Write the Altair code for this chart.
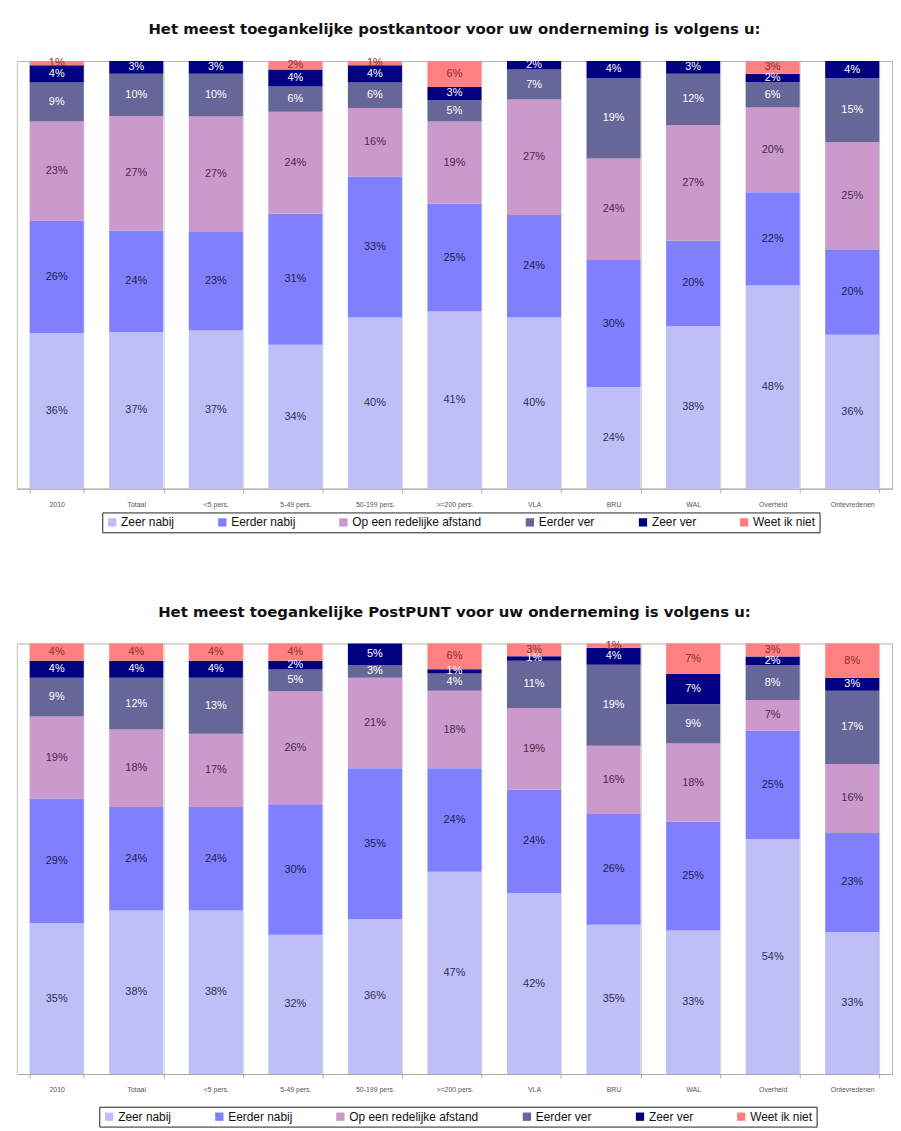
import altair as alt
import pandas as pd

categories = ["2010", "Totaal", "<5 pers.", "5-49 pers.", "50-199 pers.", ">=200 pers.",
              "VLA", "BRU", "WAL", "Overheid", "Ontevredenen"]
answers = ["Zeer nabij", "Eerder nabij", "Op een redelijke afstand", "Eerder ver", "Zeer ver", "Weet ik niet"]

# Chart 1: postkantoor
kantoor_zeer_nabij = [36, 37, 37, 34, 40, 41, 40, 24, 38, 48, 36]
kantoor_eerder_nabij = [26, 24, 23, 31, 33, 25, 24, 30, 20, 22, 20]
kantoor_redelijk = [23, 27, 27, 24, 16, 19, 27, 24, 27, 20, 25]
kantoor_eerder_ver = [9, 10, 10, 6, 6, 5, 7, 19, 12, 6, 15]
kantoor_zeer_ver = [4, 3, 3, 4, 4, 3, 2, 4, 3, 2, 4]
kantoor_weet_niet = [1, 0, 0, 2, 1, 6, 0, 0, 0, 3, 0]

# Chart 2: PostPUNT
punt_zeer_nabij = [35, 38, 38, 32, 36, 47, 42, 35, 33, 54, 33]
punt_eerder_nabij = [29, 24, 24, 30, 35, 24, 24, 26, 25, 25, 23]
punt_redelijk = [19, 18, 17, 26, 21, 18, 19, 16, 18, 7, 16]
punt_eerder_ver = [9, 12, 13, 5, 3, 4, 11, 19, 9, 8, 17]
punt_zeer_ver = [4, 4, 4, 2, 5, 1, 1, 4, 7, 2, 3]
punt_weet_niet = [4, 4, 4, 4, 0, 6, 3, 1, 7, 3, 8]

title1 = "Het meest toegankelijke postkantoor voor uw onderneming is volgens u:"
title2 = "Het meest toegankelijke PostPUNT voor uw onderneming is volgens u:"

bar_colors = ["#BFBFF8", "#8080FF", "#CC99CC", "#666699", "#000080", "#FF8080"]
text_colors = ["#2E2E55", "#1E1E50", "#4A2A4A", "#FFFFFF", "#FFFFFF", "#8B2E2E"]


def long_table(series):
    rows = []
    for k, (ans, vals) in enumerate(zip(answers, series)):
        for cat, v in zip(categories, vals):
            rows.append({"cat": cat, "answer": ans, "order": k, "value": v})
    return pd.DataFrame(rows)


def panel(series, title, width, height, lx, ly):
    df = long_table(series)
    base = alt.Chart(df)
    xenc = alt.X("cat:N", sort=categories, title=None,
                 scale=alt.Scale(paddingInner=0.32, paddingOuter=0.16),
                 axis=alt.Axis(labelAngle=0, labelFontSize=7, labelColor="#555555",
                               labelFont="Liberation Sans", labelPadding=8,
                               tickBand="extent", tickSize=4, tickColor="#aaaaaa",
                               grid=True, gridColor="#d6d6cc", domainColor="#aaaaaa"))
    bars = base.mark_bar().encode(
        x=xenc,
        y=alt.Y("value:Q", stack="normalize", title=None,
                scale=alt.Scale(domain=[0, 1], nice=False),
                axis=alt.Axis(labels=False, ticks=False, grid=False, domain=True,
                              domainColor="#cfcfc0", title=None)),
        color=alt.Color("answer:N", sort=answers,
                        scale=alt.Scale(domain=answers, range=bar_colors),
                        legend=alt.Legend(title=None, orient="none", legendX=lx, legendY=ly,
                                          direction="horizontal", symbolType="square",
                                          symbolSize=70, symbolStrokeWidth=0,
                                          labelFontSize=12, labelFont="Liberation Sans",
                                          labelColor="#111111", columnPadding=42,
                                          labelOffset=3, padding=4,
                                          strokeColor="#222222", fillColor="#ffffff")),
        order=alt.Order("order:Q", sort="ascending"),
    )
    texts = base.transform_stack(
        stack="value", groupby=["cat"], sort=[alt.SortField("order", "ascending")],
        offset="normalize", as_=["y0", "y1"]
    ).transform_calculate(
        mid="(datum.y0 + datum.y1) / 2", label="datum.value + '%'"
    ).transform_filter("datum.value > 0").mark_text(
        fontSize=11, font="Liberation Sans", baseline="middle", align="center"
    ).encode(
        x=alt.X("cat:N", sort=categories),
        y=alt.Y("mid:Q"),
        text="label:N",
        color=alt.Color("answer:N", scale=alt.Scale(domain=answers, range=text_colors),
                        legend=None),
    )
    return alt.layer(bars, texts).resolve_scale(color="independent").properties(
        width=width, height=height,
        title=alt.TitleParams(title, fontSize=15, font="DejaVu Sans",
                              fontWeight="bold", color="#111111", offset=20,
                              anchor="middle"),
    )


top = panel([kantoor_zeer_nabij, kantoor_eerder_nabij, kantoor_redelijk,
             kantoor_eerder_ver, kantoor_zeer_ver, kantoor_weet_niet],
            title1, 882, 431, 86, 455)
bottom = panel([punt_zeer_nabij, punt_eerder_nabij, punt_redelijk,
                punt_eerder_ver, punt_zeer_ver, punt_weet_niet],
               title2, 882, 434, 83, 467)

chart = alt.vconcat(top, bottom, spacing=71).resolve_scale(color="independent").properties(
    padding={"left": 8, "top": 9, "right": 0, "bottom": 0}
).configure_view(stroke="#b5b5aa")

chart.save("out.html", embed_options={"renderer": "svg", "actions": False})
